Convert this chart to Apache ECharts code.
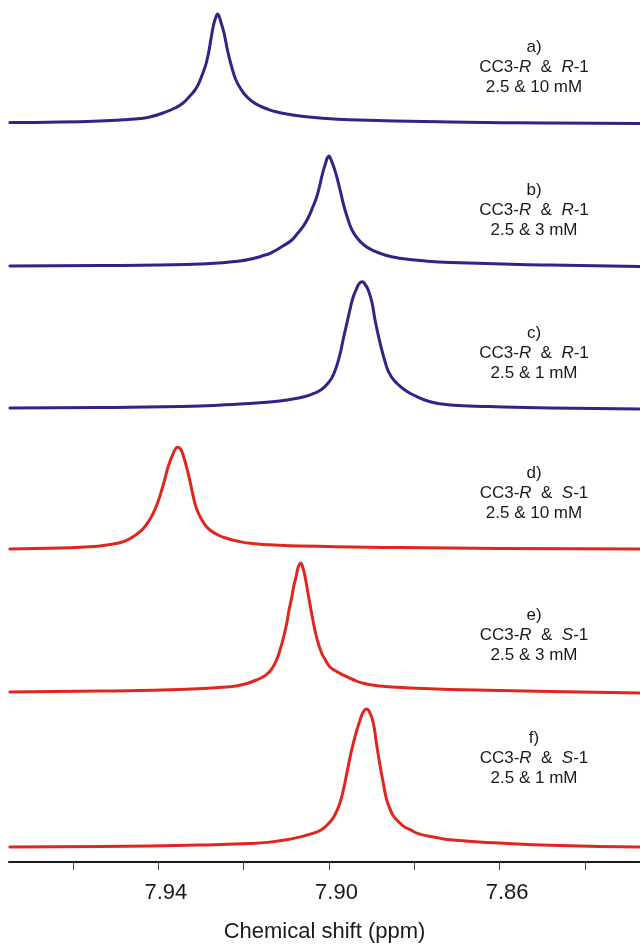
<!DOCTYPE html>
<html>
<head>
<meta charset="utf-8">
<script src="https://cdn.jsdelivr.net/npm/echarts@6/dist/echarts.min.js"></script>
<style>
  html, body { margin: 0; padding: 0; background: #fff; }
  #main { width: 640px; height: 944px; }
</style>
</head>
<body>
<div id="main"></div>
<script>
// chemical shift (ppm) / intensity (a.u.), top to bottom
const shiftA = [7.9748, 7.9630, 7.9513, 7.9471, 7.9443, 7.9420, 7.9389, 7.9361, 7.9342, 7.9326, 7.9314, 7.9307, 7.9300, 7.9293, 7.9287, 7.9281, 7.9275, 7.9270, 7.9265, 7.9261, 7.9257, 7.9252, 7.9246, 7.9238, 7.9228, 7.9218, 7.9205, 7.9192, 7.9178, 7.9164, 7.9148, 7.9122, 7.9091, 7.9068, 7.9021, 7.8951, 7.8716, 7.8482, 7.8271];
const intA = [7.5, 8, 9.5, 10.5, 11.5, 13, 17, 22, 27, 34, 40, 45, 52, 60, 68, 80, 95, 106, 113, 116, 113, 106, 97, 80, 63, 50, 40, 33, 28, 24.5, 21.5, 18, 15.5, 14, 12, 10.3, 8, 7, 6.5];

const shiftB = [7.9748, 7.9537, 7.9396, 7.9302, 7.9209, 7.9173, 7.9150, 7.9138, 7.9108, 7.9087, 7.9073, 7.9061, 7.9049, 7.9037, 7.9030, 7.9023, 7.9015, 7.9007, 7.9004, 7.9000, 7.8997, 7.8993, 7.8984, 7.8974, 7.8965, 7.8955, 7.8946, 7.8934, 7.8918, 7.8899, 7.8869, 7.8834, 7.8787, 7.8716, 7.8482, 7.8271];
const intB = [6, 6.5, 7, 8, 11, 14, 17, 18.7, 26, 32, 39, 45.3, 54, 66, 73.5, 84, 98.7, 110, 114, 116, 114, 110, 98.7, 82, 66, 52, 42, 34, 27, 22, 17, 13.7, 11.5, 9.5, 7, 5.5];

const shiftC = [7.9748, 7.9537, 7.9302, 7.9209, 7.9138, 7.9091, 7.9056, 7.9033, 7.9016, 7.9005, 7.8995, 7.8988, 7.8982, 7.8974, 7.8967, 7.8959, 7.8951, 7.8944, 7.8935, 7.8929, 7.8922, 7.8916, 7.8908, 7.8899, 7.8892, 7.8880, 7.8865, 7.8855, 7.8841, 7.8822, 7.8802, 7.8763, 7.8716, 7.8623, 7.8482, 7.8271];
const intC = [6, 6.5, 8, 10, 12, 14.5, 17.5, 21, 25, 29.5, 35, 41, 48, 60, 74, 89, 104, 116, 125.7, 130.5, 132.3, 130, 124, 111, 94, 70.7, 47.3, 38, 30.7, 24, 19, 12.3, 9, 7.5, 6, 5];

const shiftD = [7.9748, 7.9630, 7.9572, 7.9537, 7.9506, 7.9485, 7.9466, 7.9443, 7.9427, 7.9412, 7.9401, 7.9392, 7.9384, 7.9377, 7.9365, 7.9360, 7.9355, 7.9349, 7.9342, 7.9330, 7.9318, 7.9311, 7.9302, 7.9291, 7.9279, 7.9260, 7.9240, 7.9216, 7.9185, 7.9138, 7.9068, 7.8834, 7.8599, 7.8271];
const intD = [6, 7, 8, 9, 11, 13, 16.5, 23.3, 31, 41.7, 53, 65, 77, 88.3, 101.7, 106, 107.7, 106.5, 100, 81.7, 58.3, 47, 38.3, 30.5, 25, 20, 16.7, 14, 11.7, 10.3, 9, 7.5, 6.5, 6];

const shiftE = [7.9748, 7.9537, 7.9349, 7.9232, 7.9197, 7.9173, 7.9157, 7.9145, 7.9136, 7.9128, 7.9121, 7.9115, 7.9108, 7.9099, 7.9094, 7.9087, 7.9082, 7.9077, 7.9072, 7.9066, 7.9061, 7.9056, 7.9045, 7.9033, 7.9026, 7.9017, 7.9009, 7.8998, 7.8986, 7.8967, 7.8944, 7.8920, 7.8880, 7.8810, 7.8716, 7.8482, 7.8271];
const intE = [6, 7, 8.5, 11.3, 14, 17.5, 20.5, 24, 28, 33.5, 40, 48, 58, 74.7, 87, 101.3, 113, 121.3, 131, 134.7, 130, 121.3, 94.7, 68, 56, 44.7, 38.5, 31.3, 27.5, 23, 18.5, 14.7, 12, 10, 8.5, 6.5, 5];

const shiftF = [7.9748, 7.9537, 7.9302, 7.9185, 7.9138, 7.9091, 7.9056, 7.9033, 7.9016, 7.9005, 7.8995, 7.8988, 7.8981, 7.8974, 7.8966, 7.8958, 7.8943, 7.8927, 7.8919, 7.8912, 7.8904, 7.8896, 7.8889, 7.8880, 7.8873, 7.8865, 7.8857, 7.8849, 7.8838, 7.8826, 7.8810, 7.8787, 7.8752, 7.8716, 7.8599, 7.8459, 7.8271];
const intF = [15, 15.5, 17, 18.5, 20, 23, 26.5, 29.5, 33, 37, 41.5, 46, 52, 59.7, 73, 89.7, 119.7, 143, 151.5, 154, 150, 139.7, 120, 96.3, 80, 63, 53.5, 46.3, 41, 36.3, 32.5, 28, 25, 22.3, 19, 16.5, 15];

const panelTags = ['a)', 'b)', 'c)', 'd)', 'e)', 'f)'];
const guestIsomer = ['R', 'R', 'R', 'S', 'S', 'S'];
const concLabels = ['2.5 & 10 mM', '2.5 & 3 mM', '2.5 & 1 mM', '2.5 & 10 mM', '2.5 & 3 mM', '2.5 & 1 mM'];

const xTicks = [7.96, 7.94, 7.92, 7.90, 7.88, 7.86, 7.84];
const xLabels = [7.94, 7.90, 7.86];

const shifts = [shiftA, shiftB, shiftC, shiftD, shiftE, shiftF];
const intens = [intA, intB, intC, intD, intE, intF];

// layout / styling
const FONT = '"Liberation Sans", Arial, Helvetica, sans-serif';
const BLUE = '#2f2586';
const RED = '#e2261f';
const colors = [BLUE, BLUE, BLUE, RED, RED, RED];
const panels = [
  { top: 5, height: 125 },
  { top: 140, height: 132 },
  { top: 274, height: 140 },
  { top: 435, height: 120 },
  { top: 556, height: 142 },
  { top: 700, height: 163 }
];
const labelTops = [37, 180, 323, 463, 605, 728];

const chart = echarts.init(document.getElementById('main'), null, { renderer: 'canvas' });

const xAxis = panels.map((p, i) => {
  const ax = {
    type: 'value',
    gridIndex: i,
    min: 7.8271,
    max: 7.975,
    inverse: true,
    show: i === panels.length - 1,
    splitLine: { show: false }
  };
  if (i === panels.length - 1) {
    Object.assign(ax, {
      axisLine: { show: true, lineStyle: { color: '#1a1a1a', width: 2 } },
      axisTick: { show: true, length: 8, customValues: xTicks, lineStyle: { color: '#444', width: 1 } },
      axisLabel: {
        customValues: xLabels,
        formatter: v => v.toFixed(2),
        fontSize: 22,
        fontFamily: FONT,
        color: '#1a1a1a',
        margin: 20,
        padding: [0, 0, 0, 15]
      },
      name: 'Chemical shift (ppm)',
      nameLocation: 'middle',
      nameGap: 59,
      nameTextStyle: { fontSize: 22, fontFamily: FONT, color: '#1a1a1a' }
    });
  }
  return ax;
});

chart.setOption({
  animation: false,
  backgroundColor: '#ffffff',
  grid: panels.map(p => ({ left: 9, right: 0, top: p.top, height: p.height })),
  xAxis: xAxis,
  yAxis: panels.map((p, i) => ({ type: 'value', gridIndex: i, min: 0, max: p.height, show: false })),
  series: shifts.map((s, i) => ({
    type: 'line',
    xAxisIndex: i,
    yAxisIndex: i,
    data: s.map((x, k) => [x, intens[i][k]]),
    showSymbol: false,
    smooth: 0.5,
    lineStyle: { color: colors[i], width: 3, join: 'round', cap: 'round' }
  })),
  graphic: panelTags.map((tag, i) => ({
    type: 'text',
    x: 534,
    y: labelTops[i],
    style: {
      text: tag + '\nCC3-{i|R}  &  {i|' + guestIsomer[i] + '}-1\n' + concLabels[i],
      rich: { i: { fontStyle: 'italic', fontSize: 17, fontFamily: FONT, fill: '#1a1a1a', lineHeight: 20 } },
      fontSize: 17,
      fontFamily: FONT,
      fill: '#1a1a1a',
      lineHeight: 20,
      align: 'center',
      textAlign: 'center',
      verticalAlign: 'top',
      textVerticalAlign: 'top'
    }
  }))
});
</script>
</body>
</html>
